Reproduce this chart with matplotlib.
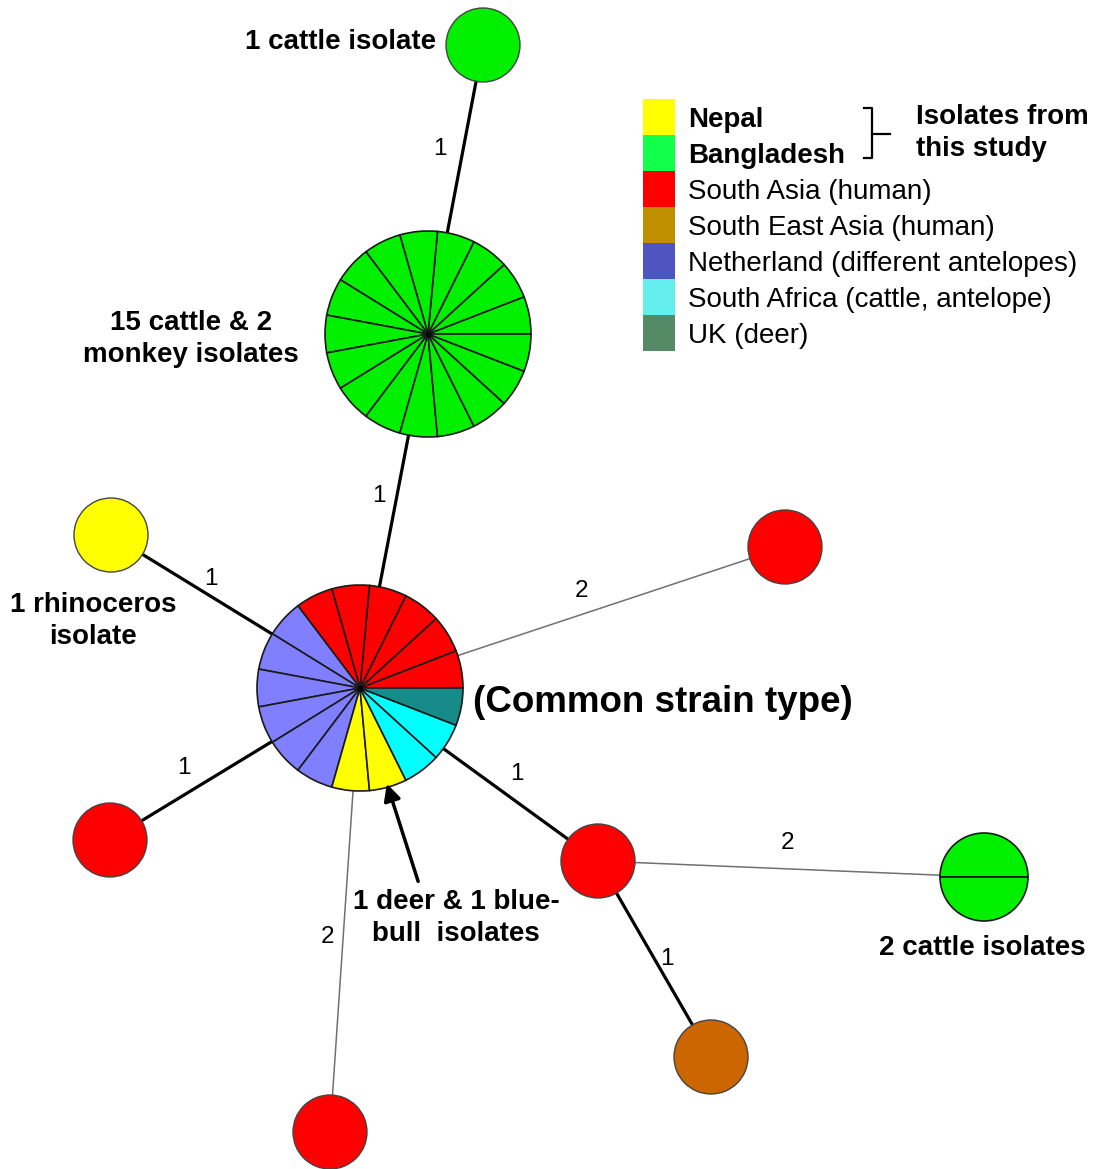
import matplotlib
matplotlib.use("Agg")
import matplotlib.pyplot as plt
from matplotlib.patches import Rectangle

plt.rcParams['font.family'] = ['Liberation Sans', 'DejaVu Sans']

# ---------------- data ----------------
legend_labels = ['Nepal', 'Bangladesh', 'South Asia (human)', 'South East Asia (human)',
                 'Netherland (different antelopes)', 'South Africa (cattle, antelope)', 'UK (deer)']
legend_bold = [True, True, False, False, False, False, False]

# node composition: list of (group, count)
node_names = ['CST', 'BG17', 'BG1', 'NP1', 'SA_a', 'SA_b', 'SA_c', 'BG2', 'SEA', 'SA_d']
node_groups = [
    ['South Asia', 'Netherland', 'Nepal', 'South Africa', 'UK'],
    ['Bangladesh'], ['Bangladesh'], ['Nepal'], ['South Asia'], ['South Asia'],
    ['South Asia'], ['Bangladesh'], ['South East Asia'], ['South Asia'],
]
node_counts = [
    [6, 6, 2, 2, 1],
    [17], [1], [1], [1], [1], [1], [2], [1], [1],
]

edge_src = ['BG1', 'BG17', 'NP1', 'CST', 'CST', 'CST', 'SA_c', 'SA_c', 'CST']
edge_dst = ['BG17', 'CST', 'CST', 'SA_a', 'SA_b', 'SA_c', 'BG2', 'SEA', 'SA_d']
edge_dist = [1, 1, 1, 2, 1, 1, 2, 1, 2]

# ---------------- layout / styles ----------------
W, H = 1096, 1169
node_pos = {'CST': (360, 688), 'BG17': (428, 334), 'BG1': (483, 45), 'NP1': (111, 535),
            'SA_a': (785, 547), 'SA_b': (110, 840), 'SA_c': (598, 861), 'BG2': (984, 877),
            'SEA': (711, 1057), 'SA_d': (330, 1132)}
node_r = {'CST': 103, 'BG17': 103, 'BG2': 44}
default_r = 37
edge_label_pos = [(440, 149), (379, 496), (211, 579), (581, 591), (184, 768),
                  (517, 774), (788, 843), (667, 959), (327, 937)]

node_colors = {'South Asia': '#FF0000', 'Netherland': '#7F7FFF', 'Nepal': '#FFFF00',
               'South Africa': '#00FFFF', 'UK': '#178A8A', 'Bangladesh': '#00F000',
               'South East Asia': '#CC6600'}
legend_colors = ['#FFFF00', '#12FF4A', '#FF0000', '#BF8F00', '#4F55C0', '#64EEEE', '#558A66']


def Y(y):
    return H - y


def TY(y):
    # text anchor (slightly lower to match baseline placement)
    return H - y - 2


fig = plt.figure(figsize=(W / 100, H / 100), dpi=100)
ax = fig.add_axes([0, 0, 1, 1])

# edges
for (s, d, dist, lp) in zip(edge_src, edge_dst, edge_dist, edge_label_pos):
    x1, y1 = node_pos[s]
    x2, y2 = node_pos[d]
    if dist == 1:
        ax.plot([x1, x2], [Y(y1), Y(y2)], color='black', lw=2.3, zorder=1, solid_capstyle='butt')
    else:
        ax.plot([x1, x2], [Y(y1), Y(y2)], color='#707070', lw=1.1, zorder=1)
    ax.text(lp[0], Y(lp[1]), str(dist), fontsize=17.5, ha='center', va='center', zorder=5)

# nodes
for name, groups, counts in zip(node_names, node_groups, node_counts):
    x, y = node_pos[name]
    r = node_r.get(name, default_r)
    sizes, cols = [], []
    for g, c in zip(groups, counts):
        for _ in range(c):
            sizes.append(1)
            cols.append(node_colors[g])
    n = len(sizes)
    wp = dict(edgecolor='#1a1a1a' if n > 1 else '#444444', linewidth=1.2 if n > 1 else 1.0)
    wedges, _ = ax.pie(sizes, colors=cols, center=(x, Y(y)), radius=r, startangle=0,
                       counterclock=True, frame=True, wedgeprops=wp)
    for w in wedges:
        w.set_zorder(3)
    if n > 2:
        ax.plot([x], [Y(y)], 'o', color='black', ms=3, zorder=4)

# arrow
ax.annotate('', xy=(386, Y(781)), xytext=(419, Y(884)),
            arrowprops=dict(arrowstyle='-|>,head_length=1.0,head_width=0.5', color='black',
                            lw=2.5), zorder=6)

# texts
bold = dict(fontweight='bold', fontsize=20)
ax.text(436, TY(40), '1 cattle isolate', ha='right', va='center', **bold)
ax.text(191, TY(337), '15 cattle & 2\nmonkey isolates', ha='center', va='center',
        linespacing=1.32, **bold)
ax.text(93, TY(619), '1 rhinoceros\nisolate', ha='center', va='center', linespacing=1.32, **bold)
ax.text(473, TY(700), '(Common strain type)', ha='left', va='center', fontweight='bold',
        fontsize=26.5)
ax.text(456, TY(916), '1 deer & 1 blue-\nbull  isolates', ha='center', va='center',
        linespacing=1.32, **bold)
ax.text(982, TY(946), '2 cattle isolates', ha='center', va='center', **bold)

# legend
lx, ly0, lw_, lh = 643, 99, 32, 36
for i, (lab, col, b) in enumerate(zip(legend_labels, legend_colors, legend_bold)):
    top = ly0 + i * lh
    ax.add_patch(Rectangle((lx, Y(top + lh)), lw_, lh, facecolor=col, edgecolor='none', zorder=2))
    ax.text(688, TY(top + lh / 2 + 1), lab, ha='left', va='center', fontsize=20,
            fontweight='bold' if b else 'normal')

# bracket
ax.plot([864, 872, 872, 864], [Y(108), Y(108), Y(158), Y(158)], color='black', lw=1.6)
ax.plot([872, 890], [Y(134), Y(134)], color='black', lw=1.6)
ax.text(916, TY(131), 'Isolates from\nthis study', ha='left', va='center', linespacing=1.35,
        **bold)

ax.set_xlim(0, W)
ax.set_ylim(0, H)
ax.set_aspect('auto')
ax.axis('off')
fig.savefig('out.png', dpi=100)
